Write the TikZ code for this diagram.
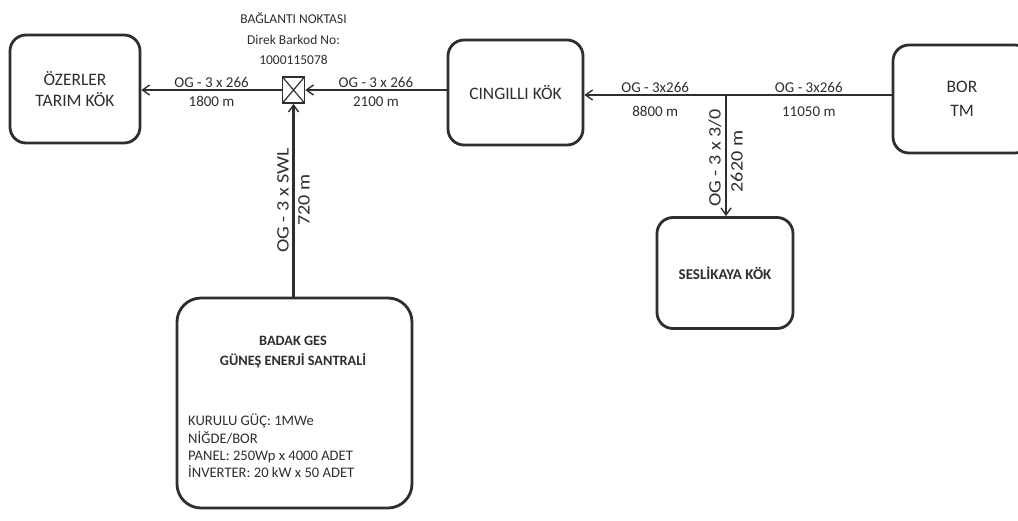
\documentclass[tikz,border=0pt]{standalone}
\usepackage{fontspec}
\setmainfont{Carlito}
\usetikzlibrary{positioning,arrows.meta}
\definecolor{ink}{HTML}{2E2E2E}
\newcommand{\stretched}[1]{\scalebox{1.15}[1]{#1}}

\begin{document}
\begin{tikzpicture}[
  x=1pt, y=-1pt,
  color=ink,
  font=\fontsize{15}{18}\selectfont,
  site/.style={draw=ink, line width=2.8pt, rounded corners=16pt, align=center, font=\fontsize{17.5}{20.5}\selectfont},
  joint/.style={draw=ink, line width=1.6pt, minimum width=22pt, minimum height=26pt, inner sep=0pt,
    path picture={\draw[line width=1.2pt] (path picture bounding box.north west) -- (path picture bounding box.south east)
      (path picture bounding box.north east) -- (path picture bounding box.south west);}},
  feed/.style={line width=2.4pt, -{Straight Barb[length=7pt,width=10pt,line width=1.4pt]}},
  trunk/.style={line width=2.4pt},
  cable/.style={inner sep=1.5pt},
  vcable/.style={rotate=90, inner sep=3.5pt, font=\fontsize{17.5}{20}\selectfont}
]
\useasboundingbox (0,0) rectangle (1018,520);
\clip (0,0) rectangle (1018,520);

% substations and plant
\node[site, minimum width=130pt, minimum height=108pt] (ozerler) at (75,89) {ÖZERLER\\TARIM KÖK};
\node[site, minimum width=135pt, minimum height=105pt] (cingilli) at (515.5,92.5) {CINGILLI KÖK};
\node[site, minimum width=138pt, minimum height=108pt] (bor) at (962,99) {BOR\\[4pt]TM};
\node[site, minimum width=136pt, minimum height=111pt, font=\fontsize{15}{18}\selectfont\bfseries] (seslikaya) at (725,273) {SESLİKAYA KÖK};
\node[site, minimum width=235pt, minimum height=210pt, rounded corners=24pt] (badak) at (294.5,403) {};
\node[align=center, inner sep=0pt, font=\fontsize{14.3}{20}\selectfont\bfseries] (badaktitle) at (293,352) {BADAK GES\\GÜNEŞ ENERJİ SANTRALİ};
\node[align=left, anchor=west, inner sep=0pt, font=\fontsize{14.6}{17.3}\selectfont] (badakinfo) at (188,446)
  {KURULU GÜÇ: 1MWe\\NİĞDE/BOR\\PANEL: 250Wp x 4000 ADET\\İNVERTER: 20 kW x 50 ADET};

% connection point
\node[joint] (jn) at (293.5,90) {};
\node[align=center, font=\fontsize{13.5}{20.5}\selectfont, above=8pt of jn] (jnlabel)
  {BAĞLANTI NOKTASI\\Direk Barkod No:\\1000115078};
\coordinate (br) at (726,95);

% lines
\draw[feed] (jn.west) -- node[cable, above]{OG - 3 x 266} node[cable, below=4pt]{1800 m} (ozerler.east |- jn.west);
\draw[feed] (cingilli.west |- jn) -- node[cable, above]{OG - 3 x 266} node[cable, below=4pt]{2100 m} (jn.east);
\draw[trunk] (bor.west |- br) -- node[cable, above]{OG - 3x266} node[cable, below=9pt]{11050 m} (br);
\draw[feed] (br) -- node[cable, above]{OG - 3x266} node[cable, below=9pt]{8800 m} (cingilli.east |- br);
\draw[feed] (br) -- node[vcable, pos=0.52, anchor=south]{\stretched{OG - 3 x 3/0}} node[vcable, pos=0.55, anchor=north]{\stretched{2620 m}} (br |- seslikaya.north);
\draw[feed] (jn.south |- badak.north) -- node[vcable, anchor=south]{\stretched{OG - 3 x SWL}} node[vcable, anchor=north]{\stretched{720 m}} (jn.south);
\end{tikzpicture}
\end{document}
